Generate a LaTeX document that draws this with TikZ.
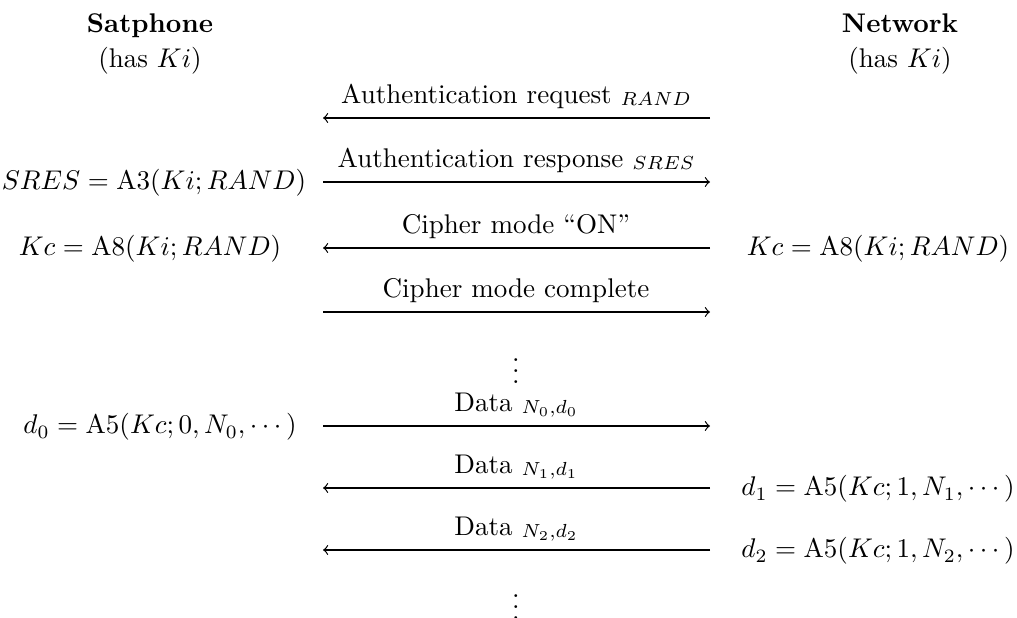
\documentclass[tikz,border=0pt]{standalone}
\usepackage{amsmath}
\newcommand{\smallsub}[1]{\raisebox{-0.6pt}{$\scriptstyle #1$}}
\begin{document}
\begin{tikzpicture}[x=0.37pt,y=-0.37pt,
  msg/.style={->,>=to,line width=0.45pt},
  lbl/.style={anchor=base,inner sep=0pt},
  hdr/.style={anchor=base,inner sep=0pt,font=\bfseries}]
\useasboundingbox (0,0) rectangle (1017,618);
% headers
\node[hdr] (sat) at (150,33) {Satphone};
\node[lbl] (satk) at (150,68) {(has $Ki$)};
\node[hdr] (net) at (900,33) {Network};
\node[lbl] (netk) at (900,68) {(has $Ki$)};
% arrow end points
\coordinate (L1) at (323,118); \coordinate (R1) at (710,118);
\coordinate (L2) at (323,182); \coordinate (R2) at (710,182);
\coordinate (L3) at (323,248); \coordinate (R3) at (710,248);
\coordinate (L4) at (323,312); \coordinate (R4) at (710,312);
\coordinate (L5) at (323,426); \coordinate (R5) at (710,426);
\coordinate (L6) at (323,488); \coordinate (R6) at (710,488);
\coordinate (L7) at (323,550); \coordinate (R7) at (710,550);
% messages
\draw[msg] (R1) -- (L1);
\node[lbl] (m1) at (516,104) {Authentication request \smallsub{RAND}};
\draw[msg] (L2) -- (R2);
\node[lbl] (m2) at (516,168) {Authentication response \smallsub{SRES}};
\draw[msg] (R3) -- (L3);
\node[lbl] (m3) at (516,234) {Cipher mode ``ON''};
\draw[msg] (L4) -- (R4);
\node[lbl] (m4) at (516,298) {Cipher mode complete};
\node[inner sep=0pt] (dots1) at (516,363) {$\vdots$};
\draw[msg] (L5) -- (R5);
\node[lbl] (m5) at (516,412) {Data \smallsub{N_0,d_0}};
\draw[msg] (R6) -- (L6);
\node[lbl] (m6) at (516,474) {Data \smallsub{N_1,d_1}};
\draw[msg] (R7) -- (L7);
\node[lbl] (m7) at (516,536) {Data \smallsub{N_2,d_2}};
\node[inner sep=0pt] (dots2) at (516,599) {$\vdots$};
% formulas left
\node[lbl] (f1) at (154,190) {$SRES=\mathrm{A3}(Ki;RAND)$};
\node[lbl] (f2) at (150,256) {$Kc=\mathrm{A8}(Ki;RAND)$};
\node[lbl] (f3) at (160,434) {$d_0=\mathrm{A5}(Kc;0,N_0,\cdots)$};
% formulas right
\node[lbl] (g1) at (878,256) {$Kc=\mathrm{A8}(Ki;RAND)$};
\node[lbl] (g2) at (878,496) {$d_1=\mathrm{A5}(Kc;1,N_1,\cdots)$};
\node[lbl] (g3) at (878,558) {$d_2=\mathrm{A5}(Kc;1,N_2,\cdots)$};
\end{tikzpicture}
\end{document}
